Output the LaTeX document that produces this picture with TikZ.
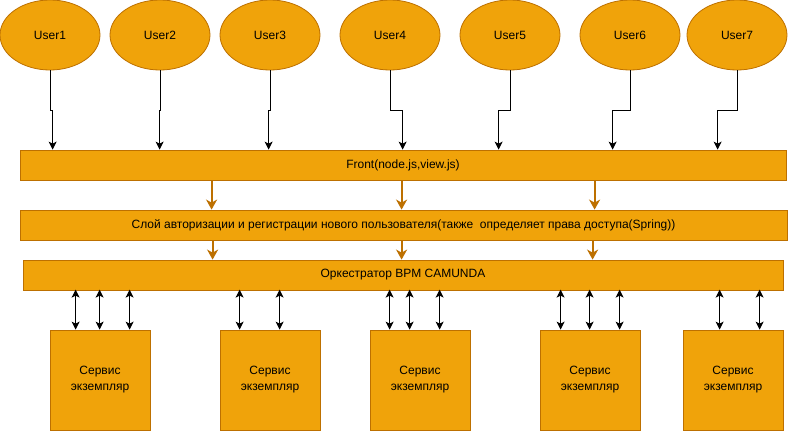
\documentclass[tikz,border=0pt]{standalone}
\usepackage{fontspec}
\setmainfont{Liberation Sans}
\usetikzlibrary{shapes.geometric,arrows.meta}
\definecolor{ofill}{HTML}{F0A30A}
\definecolor{ostroke}{HTML}{BD7000}
\begin{document}
\begin{tikzpicture}[x=1pt,y=-1pt,
  txt/.style={font=\fontsize{12}{16}\selectfont,text=black},
  user/.style={txt,ellipse,draw=ostroke,fill=ofill,line width=0.8pt,minimum width=100pt,minimum height=70pt,inner sep=0pt},
  bar/.style={txt,rectangle,draw=ostroke,fill=ofill,line width=0.8pt,minimum height=30pt,inner sep=0pt},
  svc/.style={txt,rectangle,draw=ostroke,fill=ofill,line width=0.8pt,minimum width=100pt,minimum height=100pt,inner sep=0pt,align=center},
  uarr/.style={draw=black,line width=1pt,-{Stealth[length=8pt,width=8pt,inset=2pt]}},
  oarr/.style={draw=ostroke,line width=2.2pt,-{Stealth[length=10pt,width=11pt,inset=3pt]}},
  barr/.style={draw=black,line width=1pt,{Stealth[length=8pt,width=8pt,inset=2pt]}-{Stealth[length=8pt,width=8pt,inset=2pt]}}]
\useasboundingbox (0,0) rectangle (788,431);

% users
\node[user] (u1) at (50,35) {User1};
\node[user] (u2) at (160,35) {User2};
\node[user] (u3) at (270,35) {User3};
\node[user] (u4) at (390,35) {User4};
\node[user] (u5) at (510,35) {User5};
\node[user] (u6) at (630,35) {User6};
\node[user] (u7) at (737,35) {User7};

% layers
\node[bar,minimum width=766pt] (front) at (403,165) {Front(node.js,view.js)};
\node[bar,minimum width=767pt] (auth) at (403.5,225) {Слой авторизации и регистрации нового пользователя(также~~определяет права доступа(Spring))};
\node[bar,minimum width=760pt] (orch) at (403,275) {Оркестратор BPM CAMUNDA};

% services
\node[svc] (s1) at (100,380) {Сервис\\экземпляр};
\node[svc] (s2) at (270,380) {Сервис\\экземпляр};
\node[svc] (s3) at (420,380) {Сервис\\экземпляр};
\node[svc] (s4) at (590,380) {Сервис\\экземпляр};
\node[svc] (s5) at (733,380) {Сервис\\экземпляр};

% user connectors
\draw[uarr] (u1.south) -- ++(0,40) -| ([xshift=33pt]front.north west);
\draw[uarr] (u2.south) -- ++(0,40) -| ([xshift=140pt]front.north west);
\draw[uarr] (u3.south) -- ++(0,40) -| ([xshift=249pt]front.north west);
\draw[uarr] (u4.south) -- ++(0,40) -| ([xshift=383pt]front.north west);
\draw[uarr] (u5.south) -- ++(0,40) -| ([xshift=479pt]front.north west);
\draw[uarr] (u6.south) -- ++(0,40) -| ([xshift=593pt]front.north west);
\draw[uarr] (u7.south) -- ++(0,40) -| ([xshift=698pt]front.north west);

% front -> auth
\draw[oarr] ([xshift=192pt]front.south west) -- ([xshift=192pt]auth.north west);
\draw[oarr] ([xshift=382pt]front.south west) -- ([xshift=382pt]auth.north west);
\draw[oarr] ([xshift=575pt]front.south west) -- ([xshift=575pt]auth.north west);
% auth -> orch
\draw[oarr] ([xshift=193pt]auth.south west) -- ([xshift=190pt]orch.north west);
\draw[oarr] ([xshift=382pt]auth.south west) -- ([xshift=379pt]orch.north west);
\draw[oarr] ([xshift=573pt]auth.south west) -- ([xshift=570pt]orch.north west);

% orch <-> services
\foreach \n/\dx in {s1/26,s1/50,s1/80,s2/20,s2/60,s3/20,s3/40,s3/70,s4/21,s4/50,s4/80,s5/37,s5/77}
  \draw[barr] ([xshift=\dx pt]\n.north west) -- ++(0,-40);
\end{tikzpicture}
\end{document}
